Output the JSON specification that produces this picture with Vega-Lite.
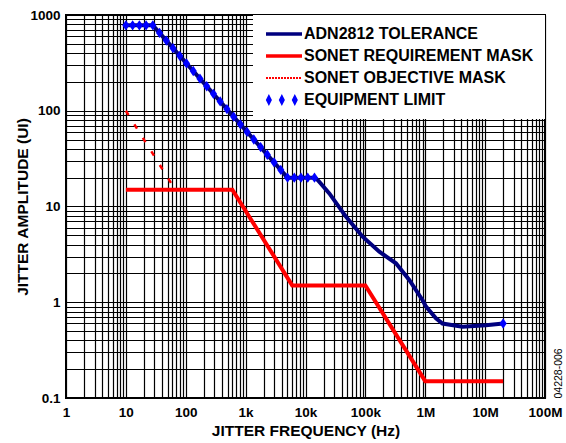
{
  "$schema": "https://vega.github.io/schema/vega-lite/v6.json",
  "width": 479,
  "height": 383,
  "autosize": {"type": "none"},
  "padding": {"left": 66, "top": 15, "right": 21, "bottom": 45},
  "background": "white",
  "config": {
    "view": {"stroke": "black", "strokeWidth": 2},
    "axis": {
      "grid": true, "gridColor": "black", "gridWidth": 1.2, "gridOpacity": 1,
      "ticks": false, "domain": false,
      "labelFont": "Liberation Sans", "labelFontWeight": "bold", "labelFontSize": 13.5, "labelColor": "black",
      "labelOverlap": false, "labelBound": false, "labelFlush": false,
      "titleFont": "Liberation Sans", "titleFontWeight": "bold", "titleFontSize": 15.5, "titleColor": "black"
    }
  },
  "resolve": {"axis": {"y": "independent"}},
  "data": {"values": [
    {"series": "EQUIPMENT LIMIT", "f": 10.0, "ui": 780},
    {"series": "EQUIPMENT LIMIT", "f": 12.96, "ui": 780},
    {"series": "EQUIPMENT LIMIT", "f": 16.79, "ui": 780},
    {"series": "EQUIPMENT LIMIT", "f": 21.76, "ui": 780},
    {"series": "EQUIPMENT LIMIT", "f": 28.18, "ui": 780},
    {"series": "EQUIPMENT LIMIT", "f": 36.52, "ui": 649},
    {"series": "EQUIPMENT LIMIT", "f": 47.32, "ui": 541},
    {"series": "EQUIPMENT LIMIT", "f": 61.31, "ui": 450},
    {"series": "EQUIPMENT LIMIT", "f": 79.43, "ui": 375},
    {"series": "EQUIPMENT LIMIT", "f": 102.9, "ui": 312},
    {"series": "EQUIPMENT LIMIT", "f": 133.4, "ui": 260},
    {"series": "EQUIPMENT LIMIT", "f": 172.8, "ui": 216.5},
    {"series": "EQUIPMENT LIMIT", "f": 223.9, "ui": 180.3},
    {"series": "EQUIPMENT LIMIT", "f": 290.1, "ui": 150.2},
    {"series": "EQUIPMENT LIMIT", "f": 375.8, "ui": 125.0},
    {"series": "EQUIPMENT LIMIT", "f": 487.0, "ui": 104.1},
    {"series": "EQUIPMENT LIMIT", "f": 631.0, "ui": 86.7},
    {"series": "EQUIPMENT LIMIT", "f": 817.6, "ui": 72.2},
    {"series": "EQUIPMENT LIMIT", "f": 1059, "ui": 60.1},
    {"series": "EQUIPMENT LIMIT", "f": 1372, "ui": 50.1},
    {"series": "EQUIPMENT LIMIT", "f": 1778, "ui": 41.7},
    {"series": "EQUIPMENT LIMIT", "f": 2304, "ui": 34.7},
    {"series": "EQUIPMENT LIMIT", "f": 2985, "ui": 28.9},
    {"series": "EQUIPMENT LIMIT", "f": 3868, "ui": 24.1},
    {"series": "EQUIPMENT LIMIT", "f": 5012, "ui": 20.0},
    {"series": "EQUIPMENT LIMIT", "f": 6494, "ui": 20},
    {"series": "EQUIPMENT LIMIT", "f": 8414, "ui": 20},
    {"series": "EQUIPMENT LIMIT", "f": 10904, "ui": 20},
    {"series": "EQUIPMENT LIMIT", "f": 14125, "ui": 20},
    {"series": "EQUIPMENT LIMIT", "f": 20000000, "ui": 0.6},
    {"series": "ADN2812 TOLERANCE", "f": 10.0, "ui": 780},
    {"series": "ADN2812 TOLERANCE", "f": 28.18, "ui": 780},
    {"series": "ADN2812 TOLERANCE", "f": 5012, "ui": 20.0},
    {"series": "ADN2812 TOLERANCE", "f": 14125, "ui": 20},
    {"series": "ADN2812 TOLERANCE", "f": 15849, "ui": 19},
    {"series": "ADN2812 TOLERANCE", "f": 25000, "ui": 13.7},
    {"series": "ADN2812 TOLERANCE", "f": 47600, "ui": 7.8},
    {"series": "ADN2812 TOLERANCE", "f": 90000, "ui": 4.84},
    {"series": "ADN2812 TOLERANCE", "f": 171000, "ui": 3.37},
    {"series": "ADN2812 TOLERANCE", "f": 324000, "ui": 2.55},
    {"series": "ADN2812 TOLERANCE", "f": 541000, "ui": 1.71},
    {"series": "ADN2812 TOLERANCE", "f": 903000, "ui": 1.05},
    {"series": "ADN2812 TOLERANCE", "f": 1030000, "ui": 0.9},
    {"series": "ADN2812 TOLERANCE", "f": 1510000, "ui": 0.68},
    {"series": "ADN2812 TOLERANCE", "f": 1940000, "ui": 0.6},
    {"series": "ADN2812 TOLERANCE", "f": 4190000, "ui": 0.556},
    {"series": "ADN2812 TOLERANCE", "f": 10300000, "ui": 0.575},
    {"series": "ADN2812 TOLERANCE", "f": 20000000, "ui": 0.6},
    {"series": "SONET REQUIREMENT MASK", "f": 10, "ui": 15},
    {"series": "SONET REQUIREMENT MASK", "f": 600, "ui": 15},
    {"series": "SONET REQUIREMENT MASK", "f": 6000, "ui": 1.5},
    {"series": "SONET REQUIREMENT MASK", "f": 100000, "ui": 1.5},
    {"series": "SONET REQUIREMENT MASK", "f": 1000000, "ui": 0.15},
    {"series": "SONET REQUIREMENT MASK", "f": 20000000, "ui": 0.15},
    {"series": "SONET OBJECTIVE MASK", "f": 10, "ui": 100},
    {"series": "SONET OBJECTIVE MASK", "f": 66.7, "ui": 15}
  ]},
  "encoding": {
    "x": {
      "field": "f", "type": "quantitative",
      "scale": {"type": "log", "domain": [1, 100000000]},
      "axis": {
        "title": "JITTER FREQUENCY (Hz)",
        "values": [1,2,3,4,5,6,7,8,9,10,20,30,40,50,60,70,80,90,100,200,300,400,500,600,700,800,900,1000,2000,3000,4000,5000,6000,7000,8000,9000,10000,20000,30000,40000,50000,60000,70000,80000,90000,100000,200000,300000,400000,500000,600000,700000,800000,900000,1000000,2000000,3000000,4000000,5000000,6000000,7000000,8000000,9000000,10000000,20000000,30000000,40000000,50000000,60000000,70000000,80000000,90000000,100000000],
        "labelExpr": "abs(log(datum.value)/LN10 - round(log(datum.value)/LN10)) > 0.001 ? '' : (datum.value >= 1000000 ? format(datum.value/1000000, 'd') + 'M' : (datum.value >= 1000 ? format(datum.value/1000, 'd') + 'k' : format(datum.value, 'd')))",
        "labelPadding": 7,
        "titleY": 37, "titleBaseline": "alphabetic"
      }
    },
    "color": {
      "field": "series", "type": "nominal",
      "scale": {"domain": ["ADN2812 TOLERANCE", "SONET REQUIREMENT MASK", "SONET OBJECTIVE MASK", "EQUIPMENT LIMIT"], "range": ["#00007f", "#ff0000", "#ff0000", "#0000ff"]},
      "legend": {
        "title": null, "orient": "top-right", "offset": 0, "fillColor": "white", "padding": 11,
        "symbolType": "stroke", "symbolSize": 1296, "symbolStrokeWidth": 3.5,
        "labelFont": "Liberation Sans", "labelFontWeight": "bold", "labelFontSize": 16, "labelColor": "black", "labelOffset": 12, "labelLimit": 400,
        "symbolOffset": 12,
        "rowPadding": 6,
        "encode": {
          "symbols": {
            "update": {
              "shape": {"signal": "datum.value === 'EQUIPMENT LIMIT' ? 'M-0.84,-0.34L-0.67,0L-0.84,0.34L-1.01,0ZM-0.12,-0.34L0.05,0L-0.12,0.34L-0.29,0ZM0.6,-0.34L0.77,0L0.6,0.34L0.43,0Z' : 'stroke'"},
              "fill": {"signal": "datum.value === 'EQUIPMENT LIMIT' ? '#0000ff' : 'transparent'"},
              "stroke": {"signal": "datum.value === 'EQUIPMENT LIMIT' ? 'transparent' : (datum.value === 'ADN2812 TOLERANCE' ? '#00007f' : '#ff0000')"},
              "strokeWidth": {"signal": "datum.value === 'SONET OBJECTIVE MASK' ? 2 : (datum.value === 'EQUIPMENT LIMIT' ? 0 : 3.5)"},
              "strokeDash": {"signal": "datum.value === 'SONET OBJECTIVE MASK' ? [2, 1] : [1, 0]"},
              "size": {"value": 1296},
              "opacity": {"value": 1}
            }
          }
        }
      }
    }
  },
  "layer": [
    {
      "layer": [
        {
          "transform": [{"filter": "datum.series === 'SONET REQUIREMENT MASK'"}],
          "mark": {"type": "line", "strokeWidth": 4, "clip": true}
        },
        {
          "transform": [{"filter": "datum.series === 'SONET OBJECTIVE MASK'"}],
          "mark": {"type": "line", "strokeWidth": 2.5, "strokeDash": [5, 11], "clip": true}
        },
        {
          "transform": [{"filter": "datum.series === 'ADN2812 TOLERANCE'"}],
          "mark": {"type": "line", "strokeWidth": 4, "clip": true}
        }
      ],
      "encoding": {
        "y": {
          "field": "ui", "type": "quantitative",
          "scale": {"type": "log", "domain": [0.1, 1000]},
          "axis": {
            "title": "JITTER AMPLITUDE (UI)",
            "values": [0.1,0.2,0.3,0.4,0.5,0.6,0.7,0.8,0.9,1,2,3,4,5,6,7,8,9,10,20,30,40,50,60,70,80,90,100,200,300,400,500,600,700,800,900,1000],
            "labelExpr": "abs(log(datum.value)/LN10 - round(log(datum.value)/LN10)) > 0.001 ? '' : (datum.value < 1 ? '0.1' : format(datum.value, 'd'))",
            "labelPadding": 6,
            "titleX": -44, "titleY": 191.5, "titleBaseline": "middle"
          }
        }
      }
    },
    {
      "transform": [{"filter": "datum.series === 'EQUIPMENT LIMIT'"}],
      "mark": {"type": "point", "filled": true, "opacity": 1, "size": 80, "shape": "M0,-1.15L0.8,0L0,1.15L-0.8,0Z"},
      "encoding": {
        "y": {
          "field": "ui", "type": "quantitative",
          "scale": {"type": "log", "domain": [0.1, 1000]},
          "axis": {
            "orient": "right", "grid": false, "labels": false, "ticks": false, "domain": false,
            "title": "04228-006", "titleAngle": 270, "titleX": 13, "titleY": 383,
            "titleAlign": "left", "titleBaseline": "middle",
            "titleFontSize": 10.5, "titleFontWeight": "normal"
          }
        }
      }
    }
  ]
}
